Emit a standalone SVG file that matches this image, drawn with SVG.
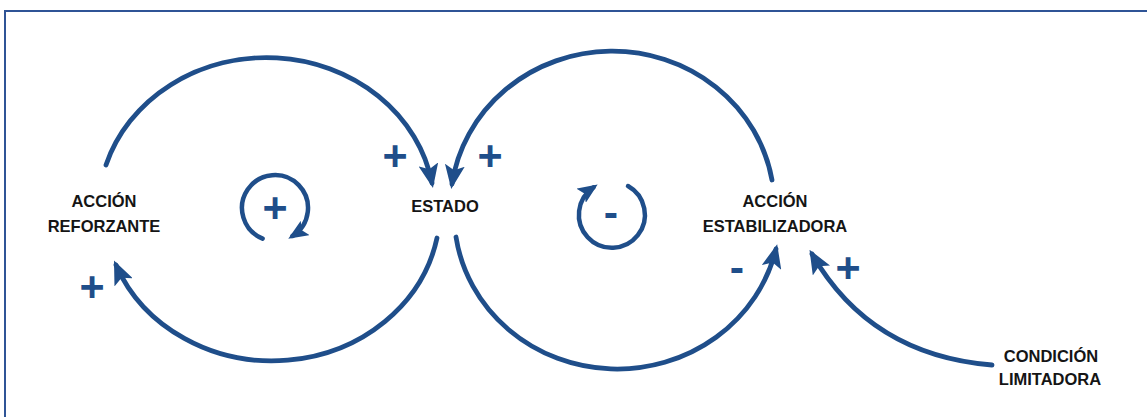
<svg xmlns="http://www.w3.org/2000/svg" width="1147" height="417" viewBox="0 0 1147 417">
<style>
.lbl{font-family:"Liberation Sans",Arial,sans-serif;font-weight:700;font-size:16.5px;fill:#151515;text-anchor:middle}
.sgn{font-family:"Liberation Sans",Arial,sans-serif;font-weight:700;font-size:43px;fill:#1F4E8A;text-anchor:middle}
.arc{fill:none;stroke:#1F4E8A;stroke-width:4.8;stroke-linecap:round}
.sm{fill:none;stroke:#1F4E8A;stroke-width:4.5;stroke-linecap:round}
</style>
<defs>
<marker id="ah" markerUnits="userSpaceOnUse" viewBox="0 0 24 20" markerWidth="24" markerHeight="20" refX="19" refY="10" orient="auto">
<path d="M0,0 L24,10 L0,20 L5,10 Z" fill="#1F4E8A"/>
</marker>
<marker id="ahs" markerUnits="userSpaceOnUse" viewBox="0 0 20 17" markerWidth="20" markerHeight="17" refX="15" refY="8.5" orient="auto">
<path d="M0,0 L20,8.5 L0,17 L4,8.5 Z" fill="#1F4E8A"/>
</marker>
</defs>
<rect x="5" y="11" width="1160" height="420" fill="none" stroke="#2F5496" stroke-width="2"/>
<g id="connectors">
<path class="arc" d="M106,165 A168,152 0 0 1 432,183" marker-end="url(#ah)"/>
<path class="arc" d="M437,238 A168,152 0 0 1 116,265" marker-end="url(#ah)"/>
<path class="arc" d="M772,180 A162,155 0 0 0 452,184" marker-end="url(#ah)"/>
<path class="arc" d="M456,237 A163,155 0 0 0 776,249" marker-end="url(#ah)"/>
<path class="arc" d="M992,365 Q870,355 812,254" marker-end="url(#ah)"/>
</g>
<g id="loop-reforzante">
<path class="sm" d="M262.6,238.6 A33,33 0 1 1 292.5,236" marker-end="url(#ahs)"/>
<text class="sgn" x="275" y="222">+</text>
</g>
<g id="loop-estabilizador">
<path class="sm" d="M628,186 A33,33 0 1 1 593.5,187.4" marker-end="url(#ahs)"/>
<text class="sgn" x="611" y="227">-</text>
</g>
<g id="accion-reforzante">
<text class="lbl" x="104" y="207">ACCIÓN</text>
<text class="lbl" x="104" y="232">REFORZANTE</text>
</g>
<g id="estado">
<text class="lbl" x="445" y="212">ESTADO</text>
</g>
<g id="accion-estabilizadora">
<text class="lbl" x="775" y="207">ACCIÓN</text>
<text class="lbl" x="775" y="232">ESTABILIZADORA</text>
</g>
<g id="condicion-limitadora">
<text class="lbl" x="1051" y="362">CONDICIÓN</text>
<text class="lbl" x="1050" y="385">LIMITADORA</text>
</g>
<g id="signs">
<text class="sgn" x="395" y="170">+</text>
<text class="sgn" x="490" y="170">+</text>
<text class="sgn" x="92" y="301">+</text>
<text class="sgn" x="737" y="282">-</text>
<text class="sgn" x="848" y="282">+</text>
</g>
</svg>
